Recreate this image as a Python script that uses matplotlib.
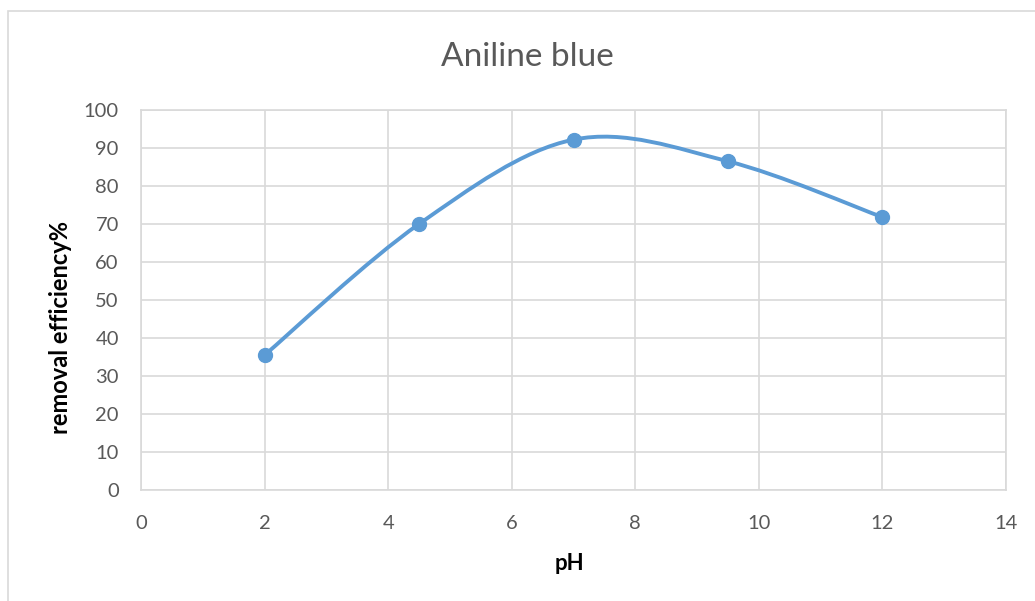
import matplotlib.pyplot as plt
from matplotlib.path import Path
from matplotlib.patches import PathPatch, Rectangle
import numpy as np

# removal efficiency of aniline blue against pH
ph = [2, 4.5, 7, 9.5, 12]
removal = [35.5, 70, 92.2, 86.5, 71.8]

title = 'Aniline blue'
xlabel = 'pH'
ylabel = 'removal efficiency%'

line_color = '#5B9BD5'
grid_color = '#D9D9D9'
text_color = '#595959'

W, H = 1035, 601

plt.rcParams['font.family'] = ['Lato', 'DejaVu Sans']


def smooth_path(xs, ys):
	# Catmull-Rom style bezier through every point, like a spreadsheet "smoothed line"
	pts = np.column_stack([xs, ys]).astype(float)
	ext = np.vstack([pts[0], pts, pts[-1]])
	verts = [tuple(pts[0])]
	codes = [Path.MOVETO]
	for i in range(1, len(ext) - 2):
		p0, p1, p2, p3 = ext[i - 1], ext[i], ext[i + 1], ext[i + 2]
		c1 = p1 + (p2 - p0) / 6.0
		c2 = p2 - (p3 - p1) / 6.0
		verts += [tuple(c1), tuple(c2), tuple(p2)]
		codes += [Path.CURVE4] * 3
	return Path(verts, codes)


fig = plt.figure(figsize=(W / 100, H / 100), dpi=100)

# chart area outline
fig.patches.append(Rectangle((8 / W, -0.05), 1.1, 1 - 11 / H + 0.05,
	transform=fig.transFigure, fill=False, edgecolor=grid_color, linewidth=1.2))

ax = fig.add_axes([141 / W, 111 / H, 865 / W, 380 / H])
ax.set_xlim(0, 14)
ax.set_ylim(0, 100)
ax.set_xticks(np.arange(0, 15, 2))
ax.set_yticks(np.arange(0, 101, 10))
ax.grid(True, color=grid_color, linewidth=1.2)
ax.set_axisbelow(True)
for side in ax.spines:
	ax.spines[side].set_color(grid_color)
	ax.spines[side].set_linewidth(1.2)
ax.tick_params(length=0, labelsize=14.5, colors=text_color)
ax.tick_params(axis='y', pad=16)
ax.tick_params(axis='x', pad=18)

ax.add_patch(PathPatch(smooth_path(ph, removal), fill=False, edgecolor=line_color,
	linewidth=2.8, capstyle='round', zorder=3))
ax.plot(ph, removal, linestyle='none', marker='o', markersize=10,
	color=line_color, zorder=4)

fig.text(527 / W, 1 - 57 / H, title, fontsize=24, color=text_color,
	ha='center', va='center')
fig.text(569 / W, 1 - 563 / H, xlabel, fontsize=16, fontweight='bold',
	color='black', ha='center', va='center')
fig.text(61 / W, 1 - 327 / H, ylabel, fontsize=17, fontweight='bold',
	color='black', ha='center', va='center', rotation=90)

fig.savefig('out.png', dpi=100)
